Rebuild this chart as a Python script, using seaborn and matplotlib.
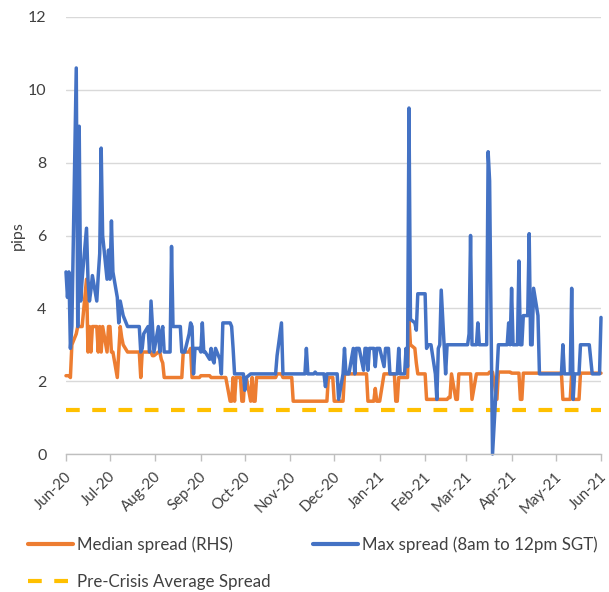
import pandas as pd
import numpy as np
import matplotlib
matplotlib.use('Agg')
import matplotlib.pyplot as plt
import matplotlib.dates as mdates
import matplotlib.transforms as mtransforms
from matplotlib.lines import Line2D
import seaborn as sns

# business-day readings per month, Jun-20 .. Jun-21
months = ['2020-06', '2020-07', '2020-08', '2020-09', '2020-10', '2020-11', '2020-12',
          '2021-01', '2021-02', '2021-03', '2021-04', '2021-05', '2021-06']

max_spread = [
    [5.0, 4.3, 5.0, 2.9, 3.5, 10.6, 3.5, 9.0, 4.2, 4.8, 6.2, 4.8, 4.2, 4.5, 4.9, 4.2, 4.9, 5.5, 8.4, 6.0, 4.8, 5.6],
    [4.8, 6.4, 5.0, 4.3, 3.6, 4.2, 4.0, 3.8, 3.5, 3.5, 3.5, 3.5, 3.5, 3.5, 3.5, 2.8, 2.9, 3.3, 3.5, 2.8, 4.2, 3.5, 2.8],
    [3.5, 2.8, 3.3, 3.5, 2.8, 2.8, 2.8, 5.7, 3.5, 3.5, 3.5, 3.5, 2.8, 2.8, 2.8, 3.3, 3.6, 3.5, 2.2, 2.9, 2.9],
    [2.8, 3.6, 2.8, 2.8, 2.6, 2.9, 2.6, 2.5, 2.9, 2.6, 2.2, 3.6, 3.6, 3.6, 3.6, 3.5, 2.9, 2.2, 2.2, 2.2, 2.2, 2.2],
    [1.75, 2.1, 2.2, 2.2, 2.2, 2.2, 2.2, 2.2, 2.2, 2.2, 2.2, 2.2, 2.2, 2.2, 2.2, 2.2, 2.7, 3.6, 2.2, 2.2, 2.2, 2.2],
    [2.2, 2.2, 2.2, 2.2, 2.2, 2.2, 2.2, 2.2, 2.9, 2.2, 2.2, 2.2, 2.25, 2.2, 2.2, 2.2, 2.2, 1.85, 2.2, 2.2, 2.2],
    [2.2, 2.2, 2.2, 1.5, 2.2, 2.9, 2.2, 2.2, 2.2, 2.9, 2.2, 2.9, 2.9, 2.9, 2.3, 2.9, 2.9, 2.3, 2.9, 2.9, 2.4, 2.9, 2.9],
    [2.9, 2.4, 2.9, 2.9, 2.9, 2.2, 2.2, 2.2, 2.2, 2.9, 2.2, 2.2, 2.9, 2.4, 9.5, 3.7, 3.6, 3.4, 4.4, 4.4, 4.4],
    [4.4, 2.9, 3.0, 3.0, 3.0, 2.2, 1.5, 2.9, 3.0, 4.5, 2.2, 3.0, 3.0, 3.0, 3.0, 3.0, 3.0, 3.0, 3.0, 3.0],
    [3.0, 3.0, 3.3, 6.0, 3.0, 3.0, 3.6, 3.0, 3.0, 3.0, 3.0, 8.3, 7.5, 3.6, 0.0, 2.2, 3.0, 3.0, 3.0, 3.0, 3.0, 3.6, 3.0],
    [4.55, 3.0, 3.0, 5.3, 3.0, 3.0, 3.8, 3.8, 6.05, 3.0, 3.0, 4.55, 3.8, 2.2, 2.2, 2.2, 2.2, 2.2, 2.2, 2.2, 2.2, 2.2],
    [2.2, 2.2, 2.2, 3.0, 2.2, 2.2, 2.2, 4.55, 1.5, 2.2, 2.2, 3.0, 3.0, 3.0, 3.0, 3.0, 2.6, 2.2, 2.2, 2.2, 2.2],
    [3.75],
]

median_spread = [
    [2.15, 2.15, 2.15, 2.1, 3.0, 3.3, 3.5, 3.5, 3.5, 3.5, 4.8, 2.8, 3.5, 2.8, 3.5, 3.5, 2.8, 3.5, 2.8, 3.5, 2.8, 3.5],
    [3.5, 2.8, 2.8, 2.1, 2.8, 3.5, 3.2, 3.0, 2.8, 2.8, 2.8, 2.8, 2.8, 2.8, 2.8, 2.1, 2.8, 2.8, 2.8, 2.8, 2.8, 2.7, 2.7],
    [2.8, 2.8, 2.6, 2.5, 2.1, 2.1, 2.1, 2.1, 2.1, 2.1, 2.1, 2.1, 2.1, 2.8, 2.8, 2.8, 2.9, 2.1, 2.1, 2.1, 2.1],
    [2.15, 2.15, 2.15, 2.15, 2.15, 2.1, 2.1, 2.1, 2.1, 2.1, 2.1, 2.1, 2.1, 2.1, 1.45, 1.45, 2.1, 1.45, 2.1, 2.1, 1.45, 1.45],
    [2.1, 2.1, 1.45, 2.1, 1.45, 1.45, 2.1, 2.1, 2.1, 2.1, 2.1, 2.1, 2.1, 2.1, 2.1, 2.1, 2.2, 2.2, 2.1, 2.1, 2.1, 2.1],
    [2.1, 1.45, 1.45, 1.45, 1.45, 1.45, 1.45, 1.45, 1.45, 1.45, 1.45, 1.45, 1.45, 1.45, 1.45, 1.45, 1.45, 1.45, 1.45, 2.1, 2.1],
    [1.45, 1.45, 1.45, 1.45, 1.45, 2.2, 2.2, 2.2, 2.2, 2.2, 2.2, 2.2, 2.2, 2.2, 2.2, 2.2, 2.2, 1.45, 1.45, 1.45, 1.8, 1.45, 1.45],
    [1.45, 2.2, 2.2, 2.2, 2.2, 2.2, 2.2, 1.45, 1.45, 2.1, 2.1, 2.1, 2.1, 2.1, 3.7, 3.0, 2.9, 2.5, 2.2, 2.2, 2.2],
    [2.2, 1.5, 1.5, 1.5, 1.5, 1.5, 1.5, 1.5, 1.5, 1.5, 1.5, 1.5, 1.55, 1.55, 2.2, 1.5, 1.5, 2.2, 2.2, 2.2],
    [2.2, 2.2, 2.2, 2.2, 1.5, 2.2, 2.2, 2.2, 2.2, 2.2, 2.2, 2.2, 2.25, 2.25, 2.25, 1.5, 2.25, 2.25, 2.25, 2.25, 2.25, 2.25, 2.25],
    [2.22, 2.22, 2.22, 2.22, 1.5, 1.5, 2.22, 2.22, 2.22, 2.22, 2.22, 2.22, 2.22, 2.22, 2.22, 2.22, 2.22, 2.22, 2.22, 2.22, 2.22, 2.22],
    [2.22, 2.22, 2.22, 1.5, 1.5, 1.5, 1.5, 2.22, 1.5, 1.5, 1.5, 2.22, 2.22, 2.22, 2.22, 2.22, 2.22, 2.22, 2.22, 2.22, 2.22],
    [2.22],
]

pre_crisis_avg = 1.22

labels = ['Median spread (RHS)', 'Max spread (8am to 12pm SGT)', 'Pre-Crisis Average Spread']
colors = ['#ED7D31', '#4472C4', '#FFC000']


def month_dates(month, n):
    start = pd.Timestamp(month + '-01')
    days = pd.bdate_range(start, start + pd.offsets.MonthEnd(0))
    return days[:n]


dates = []
for m, vals in zip(months, max_spread):
    d = month_dates(m, len(vals))
    assert len(d) == len(vals), m
    dates.extend(d)
dates = pd.DatetimeIndex(dates)

df = pd.DataFrame({
    'date': dates,
    'median': np.concatenate(median_spread),
    'max': np.concatenate(max_spread),
})
df['pre'] = pre_crisis_avg

sns.set_theme(style='white')
plt.rcParams['font.family'] = ['Lato', 'DejaVu Sans']

fig = plt.figure(figsize=(6.09, 5.92), dpi=100)
ax = fig.add_axes([66 / 609, 1 - 454 / 592, 535 / 609, 437 / 592])

sns.lineplot(data=df, x='date', y='pre', color=colors[2], lw=3.0, ax=ax)
ax.lines[-1].set_dashes([3.3, 3.0])
sns.lineplot(data=df, x='date', y='median', color=colors[0], lw=2.5, ax=ax)
sns.lineplot(data=df, x='date', y='max', color=colors[1], lw=2.5, ax=ax)
for ln in ax.lines:
    ln.set_clip_on(False)

ax.set_ylim(0, 12)
ax.set_yticks(range(0, 13, 2))
ax.set_xlim(pd.Timestamp('2020-06-01'), pd.Timestamp('2021-06-01'))
ax.xaxis.set_major_locator(mdates.MonthLocator())
ax.xaxis.set_major_formatter(mdates.DateFormatter('%b-%y'))

ax.grid(axis='y', color='#D9D9D9', lw=1)
ax.set_axisbelow(True)
for s in ['top', 'right', 'left']:
    ax.spines[s].set_visible(False)
ax.spines['bottom'].set_color('#BFBFBF')
ax.spines['bottom'].set_linewidth(1)

ax.tick_params(axis='y', length=0, pad=14, labelsize=11.5, labelcolor='#404040')
ax.tick_params(axis='x', length=5, width=1, color='#BFBFBF', pad=3,
               labelsize=10.8, labelcolor='#404040', bottom=True)
shift = mtransforms.ScaledTranslation(-1 / 72, -3 / 72, fig.dpi_scale_trans)
for lbl in ax.get_xticklabels():
    lbl.set_rotation(45)
    lbl.set_ha('right')
    lbl.set_rotation_mode('anchor')
    lbl.set_transform(lbl.get_transform() + shift)

ax.set_xlabel('')
ax.set_ylabel('pips', fontsize=11.5, color='#404040', labelpad=2)

handles = [
    Line2D([], [], color=colors[0], lw=3),
    Line2D([], [], color=colors[2], lw=3, dashes=[3.3, 3.0]),
    Line2D([], [], color=colors[1], lw=3),
]
fig.legend(handles, [labels[0], labels[2], labels[1]], loc='upper left',
           bbox_to_anchor=(28 / 609, 1 - 536 / 592), ncol=2, frameon=False,
           fontsize=12.2, handlelength=2.65, handletextpad=0.25, columnspacing=2.5,
           labelspacing=1.25, borderpad=0, borderaxespad=0, labelcolor='#404040')

fig.savefig('out.png', dpi=100)
